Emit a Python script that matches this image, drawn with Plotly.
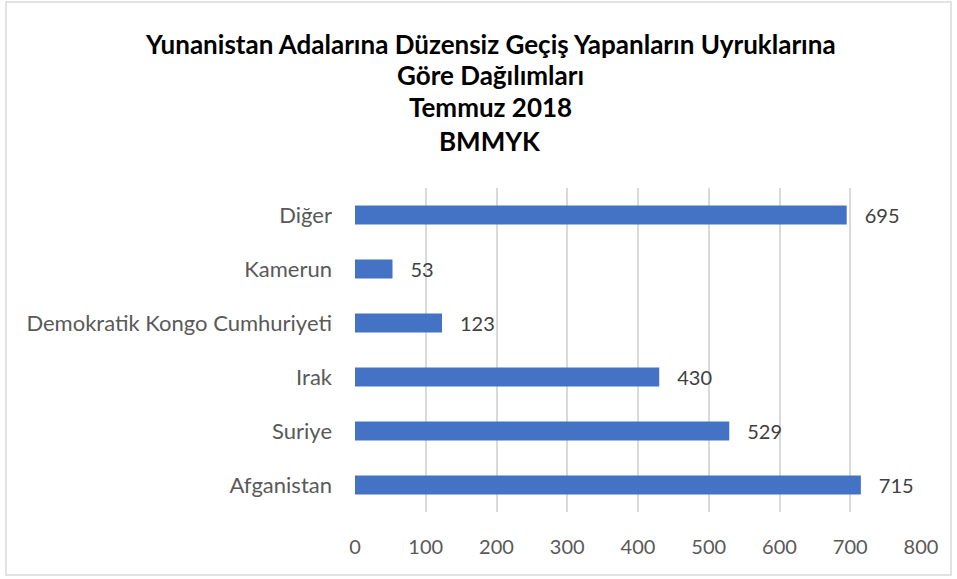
import plotly.graph_objects as go

categories = ["Afganistan", "Suriye", "Irak", "Demokratik Kongo Cumhuriyeti", "Kamerun", "Diğer"]
values = [715, 529, 430, 123, 53, 695]
x_ticks = [0, 100, 200, 300, 400, 500, 600, 700, 800]
title_lines = ["Yunanistan Adalarına Düzensiz Geçiş Yapanların Uyruklarına",
               "Göre Dağılımları", "Temmuz 2018", "BMMYK"]

FONT = "Lato, 'Open Sans', sans-serif"
GREY = "#595959"

fig = go.Figure(go.Bar(
    y=categories, x=values, orientation="h",
    marker=dict(color="#4472C4", line=dict(width=0)),
    width=0.35,
    text=values, texttemplate="\u2003%{x}", textposition="outside",
    constraintext="none",
    textfont=dict(family=FONT, size=20, color="#404040"),
    cliponaxis=False,
))

L, R, T, B = 355, 36, 188, 67
W, H = 957, 579
pw, ph = W - L - R, H - T - B

def py(y_px):
    return (H - B - y_px) / ph

title_y = [44, 75, 107, 141]
annotations = [dict(text=t, xref="paper", yref="paper", x=(490 - L) / pw, y=py(yy),
                    xanchor="center", yanchor="middle", showarrow=False,
                    font=dict(family=FONT, size=26, color="black", weight="bold"))
               for t, yy in zip(title_lines, title_y)]

fig.update_layout(
    width=W, height=H,
    margin=dict(l=L, r=R, t=T, b=B),
    paper_bgcolor="white", plot_bgcolor="white",
    showlegend=False,
    annotations=annotations,
    xaxis=dict(range=[0, 800], tickvals=x_ticks, showgrid=True, gridcolor="#d9d9d9",
               gridwidth=1.5, zeroline=False, showline=False,
               tickfont=dict(family=FONT, size=20, color=GREY),
               ticklabelstandoff=21, fixedrange=True),
    yaxis=dict(showgrid=False, zeroline=False, showline=False,
               tickfont=dict(family=FONT, size=22, color=GREY),
               ticklabelstandoff=22, fixedrange=True),
    shapes=[dict(type="rect", xref="paper", yref="paper",
                 x0=(6 - L) / pw, x1=(951 - L) / pw,
                 y0=py(575), y1=py(2),
                 line=dict(color="#d9d9d9", width=1.5), fillcolor="rgba(0,0,0,0)")],
)

fig.write_html("out.html", config={"displayModeBar": False},
               post_script="document.body.style.margin='0';document.body.style.overflow='hidden';")
